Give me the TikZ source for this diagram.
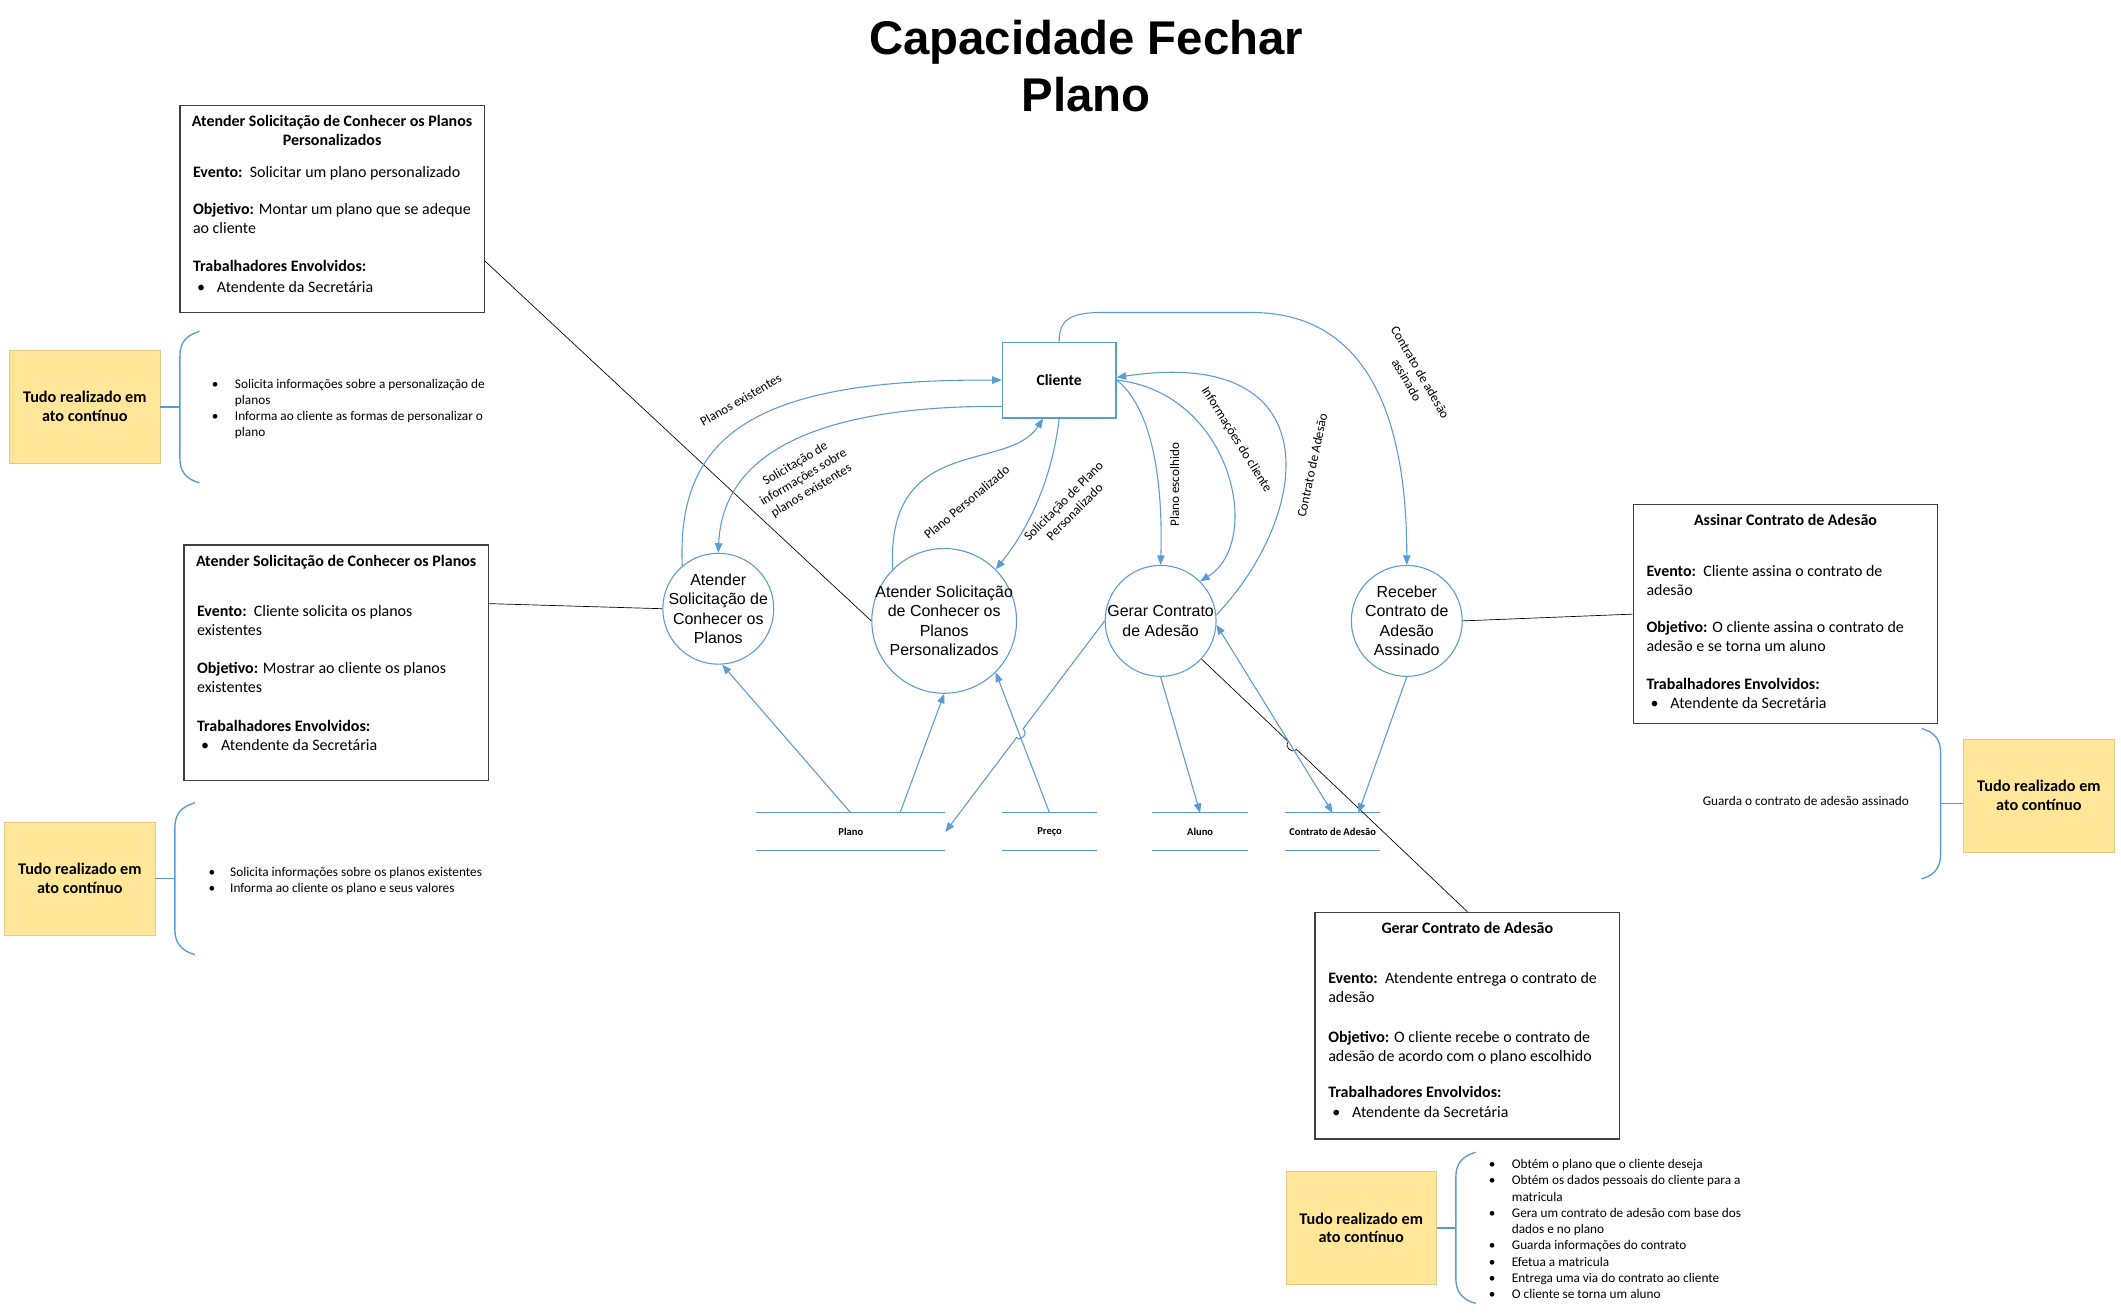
\documentclass[tikz,border=0pt]{standalone}
\usepackage{fontspec}
\setmainfont{Carlito}
\newfontfamily\arialfont{Liberation Sans}
\usetikzlibrary{positioning, arrows.meta, calc}

\definecolor{dfdblue}{HTML}{5B9BD5}
\definecolor{notefill}{HTML}{FFE699}
\definecolor{noteline}{HTML}{E3CB84}
\definecolor{boxline}{HTML}{404040}

\begin{document}
\begin{tikzpicture}[x=1pt, y=-1pt,
    descbox/.style={rectangle, draw=boxline, line width=1pt, fill=white, minimum width=225pt, inner sep=0pt},
    desctitle/.style={anchor=north, align=center, inner sep=0pt, font=\fontsize{11.8}{14}\selectfont\bfseries},
    descbody/.style={anchor=north west, align=left, inner sep=0pt, font=\fontsize{11.8}{14}\selectfont},
    note/.style={rectangle, draw=noteline, fill=notefill, minimum width=111.5pt, minimum height=83.5pt,
                 align=center, font=\fontsize{12}{14}\selectfont\bfseries},
    steplist/.style={anchor=north west, align=left, inner sep=0pt, font=\fontsize{9.8}{12}\selectfont},
    bracket/.style={draw=dfdblue, line width=1pt},
    proc/.style={circle, draw=dfdblue, line width=0.8pt, fill=white, inner sep=0pt},
    proctext/.style={align=center, inner sep=0pt, font=\arialfont\fontsize{11.8}{14.3}\selectfont},
    entity/.style={rectangle, draw=dfdblue, line width=1pt, fill=white, minimum width=84pt,
                   minimum height=56pt, font=\fontsize{11.5}{12}\selectfont\bfseries},
    store/.style={rectangle, minimum height=27.7pt, inner sep=0pt, font=\fontsize{7.8}{8}\selectfont\bfseries},
    storeline/.style={dfdblue, line width=0.8pt},
    flow/.style={dfdblue, line width=0.8pt, -{Triangle[length=7pt, width=5.5pt]}},
    flowboth/.style={dfdblue, line width=0.8pt, {Triangle[length=7pt, width=5.5pt]}-{Triangle[length=7pt, width=5.5pt]}},
    flowlabel/.style={font=\fontsize{9.7}{11.5}\selectfont, align=center, inner sep=0pt},
    assoc/.style={black, line width=0.5pt},
    headline/.style={anchor=north, align=center, inner sep=0pt, font=\arialfont\bfseries\fontsize{35}{42}\selectfont}
]

    \path[fill=white] (0,0) rectangle (1568,970);
    \useasboundingbox (0,0) rectangle (1568,970);

    % Title
    \node[headline] (title) at (803,14.5) {Capacidade Fechar\\Plano};

    % Description boxes
    \node[descbox, minimum height=153pt] (boxA) at (245.5,154.5) {};
    \node[desctitle] (boxAtitle) at ($(boxA.north)+(0,7.5)$) {Atender Solicitação de Conhecer os Planos\\Personalizados};
    \node[descbody] (boxAbody) at ($(boxA.north west)+(10,45)$) {\textbf{Evento:}\ \ Solicitar um plano personalizado\\[14pt]
        \textbf{Objetivo:} Montar um plano que se adeque\\ao cliente\\[14pt]
        \textbf{Trabalhadores Envolvidos:}\\[1pt]
        \hspace*{3pt}\makebox[14.7pt][l]{\textbullet}Atendente da Secretária};

    \node[descbox, minimum height=174pt] (boxB) at (248.5,490) {};
    \node[desctitle] (boxBtitle) at ($(boxB.north)+(0,7.5)$) {Atender Solicitação de Conhecer os Planos};
    \node[descbody] (boxBbody) at ($(boxB.north west)+(10,45)$) {\textbf{Evento:}\ \ Cliente solicita os planos\\existentes\\[14pt]
        \textbf{Objetivo:} Mostrar ao cliente os planos\\existentes\\[15pt]
        \textbf{Trabalhadores Envolvidos:}\\
        \hspace*{3pt}\makebox[14.7pt][l]{\textbullet}Atendente da Secretária};

    \node[descbox, minimum height=162pt] (boxD) at (1320,454) {};
    \node[desctitle] (boxDtitle) at ($(boxD.north)+(0,7.5)$) {Assinar Contrato de Adesão};
    \node[descbody] (boxDbody) at ($(boxD.north west)+(10,45)$) {\textbf{Evento:}\ \ Cliente assina o contrato de\\adesão\\[14pt]
        \textbf{Objetivo:} O cliente assina o contrato de\\adesão e se torna um aluno\\[14pt]
        \textbf{Trabalhadores Envolvidos:}\\
        \hspace*{3pt}\makebox[14.7pt][l]{\textbullet}Atendente da Secretária};

    \node[descbox, minimum height=167.5pt] (boxE) at (1084.75,758.25) {};
    \node[desctitle] (boxEtitle) at ($(boxE.north)+(0,7.5)$) {Gerar Contrato de Adesão};
    \node[descbody] (boxEbody) at ($(boxE.north west)+(10,45)$) {\textbf{Evento:}\ \ Atendente entrega o contrato de\\adesão\\[15pt]
        \textbf{Objetivo:} O cliente recebe o contrato de\\adesão de acordo com o plano escolhido\\[13pt]
        \textbf{Trabalhadores Envolvidos:}\\[1pt]
        \hspace*{3pt}\makebox[14.7pt][l]{\textbullet}Atendente da Secretária};

    % Notes
    \node[note] (noteA) at (62.7,300.5) {Tudo realizado em\\ato contínuo};
    \node[note] (noteB) at (59,649.5) {Tudo realizado em\\ato contínuo};
    \node[note] (noteC) at (1507.3,588.1) {Tudo realizado em\\ato contínuo};
    \node[note] (noteD) at (1006.3,907.7) {Tudo realizado em\\ato contínuo};

    % Brackets
    \draw[bracket] (147.5,245) .. controls (137,248) and (133,254) .. (133,263) -- (133,339)
        .. controls (133,348) and (137,354) .. (147.5,357);
    \coordinate (brA) at (133,301);
    \draw[bracket] (144,593.5) .. controls (133.5,596.5) and (129.3,602.5) .. (129.3,611.5) -- (129.3,687.5)
        .. controls (129.3,696.5) and (133.5,702.7) .. (144,705.7);
    \coordinate (brB) at (129.3,649.6);
    \draw[bracket] (1420.5,538.5) .. controls (1431,541.5) and (1434.6,547.5) .. (1434.6,556.5) -- (1434.6,631.5)
        .. controls (1434.6,640.5) and (1431,646.7) .. (1420.5,649.7);
    \coordinate (brC) at (1434.6,594);
    \draw[bracket] (1091,851.8) .. controls (1080.5,854.8) and (1076.3,860.8) .. (1076.3,869.8) -- (1076.3,945.6)
        .. controls (1076.3,954.6) and (1080.5,960.6) .. (1091,963.6);
    \coordinate (brD) at (1076.3,907.7);

    \draw[bracket] (noteA.east |- brA) -- (brA);
    \draw[bracket] (noteB.east |- brB) -- (brB);
    \draw[bracket] (brC) -- (brC -| noteC.west);
    \draw[bracket] (noteD.east |- brD) -- (brD);

    % Lists
    \node[steplist] (listA) at (156.5,280) {\makebox[17pt][l]{\textbullet}Solicita informações sobre a personalização de\\
        \hspace*{17pt}planos\\
        \makebox[17pt][l]{\textbullet}Informa ao cliente as formas de personalizar o\\
        \hspace*{17pt}plano};
    \node[steplist] (listB) at (154,640.8) {\makebox[16pt][l]{\textbullet}Solicita informações sobre os planos existentes\\
        \makebox[16pt][l]{\textbullet}Informa ao cliente os plano e seus valores};
    \node[steplist, anchor=center] (listC) at (1335,592) {Guarda o contrato de adesão assinado};
    \node[steplist] (listD) at (1100.5,857) {\makebox[17pt][l]{\textbullet}Obtém o plano que o cliente deseja\\
        \makebox[17pt][l]{\textbullet}Obtém os dados pessoais do cliente para a\\
        \hspace*{17pt}matricula\\
        \makebox[17pt][l]{\textbullet}Gera um contrato de adesão com base dos\\
        \hspace*{17pt}dados e no plano\\
        \makebox[17pt][l]{\textbullet}Guarda informações do contrato\\
        \makebox[17pt][l]{\textbullet}Efetua a matricula\\
        \makebox[17pt][l]{\textbullet}Entrega uma via do contrato ao cliente\\
        \makebox[17pt][l]{\textbullet}O cliente se torna um aluno};

    % Processes
    \node[proc, minimum size=82pt] (c1) at (531,450) {};
    \node[proctext] (c1txt) at (c1) {Atender\\Solicitação de\\Conhecer os\\Planos};
    \node[proc, minimum size=107pt] (c2) at (698,459) {};
    \node[proctext] (c2txt) at (c2) {Atender Solicitação\\de Conhecer os\\Planos\\Personalizados};
    \node[proc, minimum size=82pt] (c3) at (858,459) {};
    \node[proctext] (c3txt) at (c3) {Gerar Contrato\\de Adesão};
    \node[proc, minimum size=82pt] (c4) at (1040,459) {};
    \node[proctext] (c4txt) at (c4) {Receber\\Contrato de\\Adesão\\Assinado};

    % Entity
    \node[entity] (cliente) at (783,281) {Cliente};

    % Stores
    \node[store, minimum width=139.3pt] (plano) at (629,615) {Plano};
    \node[store, minimum width=70pt] (preco) at (775.9,615) {Preço};
    \node[store, minimum width=70.3pt] (aluno) at (887.2,615) {Aluno};
    \node[store, minimum width=70.3pt] (contrato) at (985.2,615) {Contrato de Adesão};
    \draw[storeline] (plano.north west) -- (plano.north east) (plano.south west) -- (plano.south east);
    \draw[storeline] (preco.north west) -- (preco.north east) (preco.south west) -- (preco.south east);
    \draw[storeline] (aluno.north west) -- (aluno.north east) (aluno.south west) -- (aluno.south east);
    \draw[storeline] (contrato.north west) -- (contrato.north east) (contrato.south west) -- (contrato.south east);

    % Associations
    \draw[assoc] ($(boxA.north east)!0.75!(boxA.south east)$) -- (c2.west);
    \draw[assoc] ($(boxB.north east)!0.25!(boxB.south east)$) -- (c1.west);
    \draw[assoc] (c4.east) -- (boxD.west);
    \draw[assoc] (c3.-43) -- ($(c3.-43)!0.327!(boxE.north)$) to[bend right=90, looseness=1.6]
        ($(c3.-43)!0.357!(boxE.north)$) -- (boxE.north);

    % Flows with the client
    \draw[flow] (c1.130) .. controls (500,320) and (560,280) .. (cliente.west);
    \draw[flow] ($(cliente.south west)!0.16!(cliente.north west)$) .. controls (650,300) and (535,315) .. (c1.north);
    \draw[flow] (c2.135) .. controls (655,320) and (745,350) .. ($(cliente.south west)!0.36!(cliente.south east)$);
    \draw[flow] (cliente.south) .. controls (777,360) and (757,395) .. (c2.45);
    \draw[flow] (cliente.east) .. controls (850,300) and (860,350) .. (c3.north);
    \draw[flow] (cliente.east) .. controls (910,290) and (935,400) .. (c3.45);
    \draw[flow] (c3.6) .. controls (970,380) and (985,255) .. ($(cliente.east)+(0,-2)$);
    \draw[flow] (cliente.north) .. controls (783,237) and (790,231) .. (815,231) -- (925,231)
        .. controls (1000,231) and (1040,290) .. (c4.north);

    \node[flowlabel, rotate=30] (lblA) at (547.6,295.6) {Planos existentes};
    \node[flowlabel, rotate=31] (lblB) at (594,353) {Solicitação de\\informações sobre\\planos existentes};
    \node[flowlabel, rotate=40] (lblC) at (714.6,371.2) {Plano Personalizado};
    \node[flowlabel, rotate=45] (lblD) at (790.2,374.4) {Solicitação de Plano\\Personalizado};
    \node[flowlabel, rotate=90] (lblE) at (868.3,358.4) {Plano escolhido};
    \node[flowlabel, rotate=-58] (lblF) at (914,325.1) {Informações do cliente};
    \node[flowlabel, rotate=78] (lblG) at (970,344) {Contrato de Adesão};
    \node[flowlabel, rotate=-60] (lblH) at (1045,278) {Contrato de adesão\\assinado};

    % Flows with the stores
    \draw[flow] (plano.north) -- (c1.-86);
    \draw[flow] ($(plano.north)!0.52!(plano.north east)$) -- (c2.south);
    \draw[flow] (c3.west) -- ($(c3.west)!0.512!(plano.east)$) to[bend left=90, looseness=1.6]
        ($(c3.west)!0.553!(plano.east)$) -- (plano.east);
    \draw[flow] (preco.north) -- (c2.-45);
    \draw[flow] (c3.south) -- (aluno.north);
    \draw[flowboth] (c3.-4) -- (contrato.north);
    \draw[flow] (c4.south) -- ($(contrato.north)+(19,0)$);

\end{tikzpicture}
\end{document}
